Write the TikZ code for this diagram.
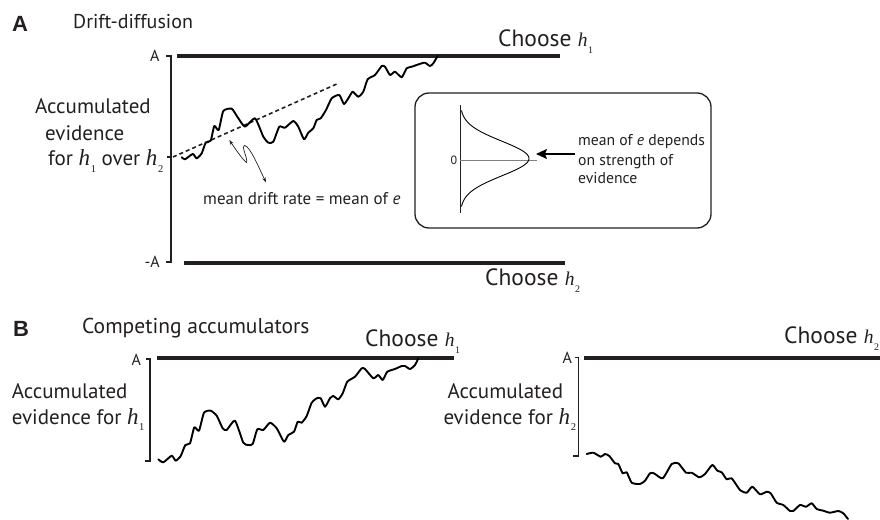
\documentclass[tikz,border=0pt]{standalone}
\usepackage{fontspec}
\setmainfont{PT Sans}
\newfontfamily\serfont{Liberation Serif}
\newfontfamily\panelfont{Liberation Sans}
\usetikzlibrary{arrows.meta}
\definecolor{ink}{HTML}{231F20}
% italic h with upright subscript: #1 h size, #2 subscript size, #3 digit
\newcommand{\hsub}[3]{{\serfont\itshape\fontsize{#1}{#1}\selectfont h}\kern0.6pt\raisebox{-0.3em}{\serfont\fontsize{#2}{#2}\selectfont #3}}
\tikzset{
  bar/.style={line width=3.7pt, draw=ink},
  axisline/.style={line width=1.4pt, draw=ink},
  walk/.style={line width=1.9pt, draw=black, line join=round, line cap=round},
  txt/.style={anchor=base west, inner sep=0pt, text=ink},
  big/.style={txt, font=\fontsize{21}{21}\selectfont},
  choose/.style={txt, font=\fontsize{23.5}{23.5}\selectfont},
  panel/.style={txt, font=\panelfont\bfseries\fontsize{22}{22}\selectfont},
  small/.style={txt, font=\fontsize{16}{16}\selectfont},
  boxtxt/.style={txt, font=\fontsize{15.7}{15.7}\selectfont},
}
\begin{document}
\begin{tikzpicture}[x=1pt,y=-1pt]
\useasboundingbox (0,0) rectangle (880,519);

% ---------------- Panel A ----------------
\node[panel] (pA) at (12,32) {A};
\node[txt, font=\fontsize{20}{20}\selectfont] (tA) at (73,29) {Drift-diffusion};

\draw[axisline] (166,56) -- (171,56) -- (171,262) -- (166,262);
\draw[axisline] (167,157) -- (171,157);
\node[small] (aTop) at (150,61) {A};
\node[small] (aBot) at (144.5,267) {-A};

\draw[bar] (177,56) -- (560,56);
\draw[bar] (184,263) -- (565,263);

\node[choose] (c1) at (498,46.5) {Choose \hsub{19.5}{10}{1}};
\node[choose] (c2) at (485,285) {Choose \hsub{19.5}{10}{2}};

\node[big] (l1) at (35,113.3) {Accumulated};
\node[big] (l2) at (45,140) {evidence};
\node[big] (l3) at (48,165.7) {for \hsub{23}{10.5}{1} over \hsub{23}{10.5}{2}};

% drift dashed line
\draw[line width=1.6pt, dash pattern=on 4pt off 3pt, draw=ink] (173,157) -- (339,83);

% walk A
\draw[walk] plot[smooth, tension=0.35] coordinates {
(181.7,157.3) (185,159.3) (192.7,154) (196.7,158.3) (201.7,153.3) (205.7,142.7)
(210.7,140.7) (214.3,126) (218.7,130) (223.3,111) (231.7,108.7) (237.3,116.7)
(245,126.7) (255,118.3) (263.3,136.7) (268.3,142.7) (273.3,141.7) (279.3,126.7)
(285,127.7) (293.3,121) (298.3,126.7) (304,139.3) (308.3,132.7) (313.3,128.3)
(316.7,120) (320.7,118.3) (326,110) (331.7,98.3) (339.3,95) (344,104)
(349.3,96.7) (352.7,91.7) (358.3,96.7) (363.3,91.7) (367.7,79.3) (375,75)
(381.7,66) (385,66.7) (390,75) (395,71.7) (401.7,77.3) (406.7,68.3)
(411.7,66.7) (416.7,65) (421.7,63.3) (425,62.7) (430,66) (433.3,63.3)
(436.7,57.5) (437.7,56)};

% squiggle double arrow
\draw[line width=0.7pt, draw=ink, {Stealth[length=5pt,width=3.5pt]}-{Stealth[length=5pt,width=3.5pt]}]
  (229.3,140) .. controls (236,150) and (243,160) .. (246.5,162.5)
  .. controls (248,158) and (241,147) .. (244.5,145.5)
  .. controls (250,146) and (259,168) .. (266,182.3);
\node[txt, font=\fontsize{17}{17}\selectfont] (drift) at (203,204) {mean drift rate = mean of \emph{e}};

% inset box
\draw[line width=1.3pt, draw=ink, rounded corners=14pt] (415,93) rectangle (711,228);
\draw[line width=1pt, draw=ink] (460,105) -- (460,213);
\draw[line width=0.8pt, draw=gray] (460,160) -- (537,160);
\draw[line width=0.9pt, draw=black] plot[domain=-48:48, samples=81, smooth] ({460+69*exp(-(\x*\x)/600)}, {158.5+\x});
\node[txt, font=\fontsize{12}{12}\selectfont] (zero) at (450.5,164.5) {0};
\coordinate (arrS) at (575,154);
\coordinate (arrE) at (536,154);
\draw[line width=1.6pt, draw=black, -{Stealth[length=11pt,width=10pt,inset=2pt]}] (arrS) -- (arrE);
\node[boxtxt] (b1) at (578,145) {mean of \emph{e} depends};
\node[boxtxt] (b2) at (578,165) {on strength of};
\node[boxtxt] (b3) at (578,183.3) {evidence};

% ---------------- Panel B ----------------
\node[panel] (pB) at (13,336) {B};
\node[txt, font=\fontsize{21.5}{21.5}\selectfont] (tB) at (82,333.3) {Competing accumulators};

% left accumulator
\draw[axisline] (146,359) -- (150,359) -- (150,461) -- (144.5,461);
\node[small] (bA1) at (131.5,365) {A};
\draw[bar] (157,358.3) -- (454,358.3);
\node[choose] (bc1) at (365,346) {Choose \hsub{19.5}{10}{1}};
\node[big] (bl1) at (11.7,398.3) {Accumulated};
\node[big] (bl2) at (11.7,424) {evidence for \hsub{23}{10.5}{1}};

\draw[walk] plot[smooth, tension=0.35] coordinates {
(158.3,459.3) (163.3,462.3) (171.7,455.7) (175.7,460.7) (180.7,456) (185.3,445)
(190,443.3) (194.3,427.3) (199,430.7) (204,412.7) (210.7,410.7) (216.7,415.7)
(222.7,428.3) (226.7,430) (235,420.7) (243.3,442.7) (248.3,445) (252.7,444)
(257.3,429.3) (263.3,430) (270,422.7) (276.7,428.3) (284,441.7) (288.3,435)
(294,431.7) (297.7,421.7) (301.7,422.7) (306.7,416) (311.7,402.7) (316.7,398.3)
(320.7,398.3) (325,406.7) (330,398.3) (333.3,396) (338.3,399.3) (342.7,393.3)
(347.3,381.7) (355,376.7) (361.7,368.3) (365,369) (373.3,378.3) (378.3,375)
(382.7,380) (387.3,371.7) (395,369) (401.7,366) (405,366) (410,369)
(415,365) (418.3,358.3)};

% right accumulator
\draw[axisline] (574.5,357.5) -- (578.7,357.5) -- (578.7,456) -- (573.3,456);
\node[small] (bA2) at (562.5,363.5) {A};
\draw[bar] (584,358) -- (880,358);
\node[choose] (bc2) at (784,343.3) {Choose \hsub{19.5}{10}{2}};
\node[big] (br1) at (447.3,398.3) {Accumulated};
\node[big] (br2) at (443.3,424) {evidence for \hsub{23}{10.5}{2}};

\draw[walk] plot[smooth, tension=0.35] coordinates {
(586.7,454) (593.3,452.7) (600.7,456.7) (605,454) (609.3,456) (615,463.3)
(618.3,464) (622.7,473.3) (626.7,472.3) (631.7,482.7) (640,484) (645,480.7)
(650,473.3) (654,473.3) (662.7,478.3) (671.7,464) (678.3,463.3) (686,472.7)
(691.7,472.7) (699.3,477.3) (705,474) (712.3,465) (717.3,470.7) (721.7,472.3)
(726.7,479.3) (731.7,478.3) (740,490) (746.7,492.7) (752.3,486.7) (760,494.3)
(766.7,491.7) (770.7,493.3) (776.7,502.7) (783.3,505) (790,511) (793.3,511)
(800,505) (806,506.7) (811.7,503.3) (816.7,509) (823.3,510.7) (830,512.7)
(838.3,511) (843.3,513.3) (848,519)};
\end{tikzpicture}
\end{document}
